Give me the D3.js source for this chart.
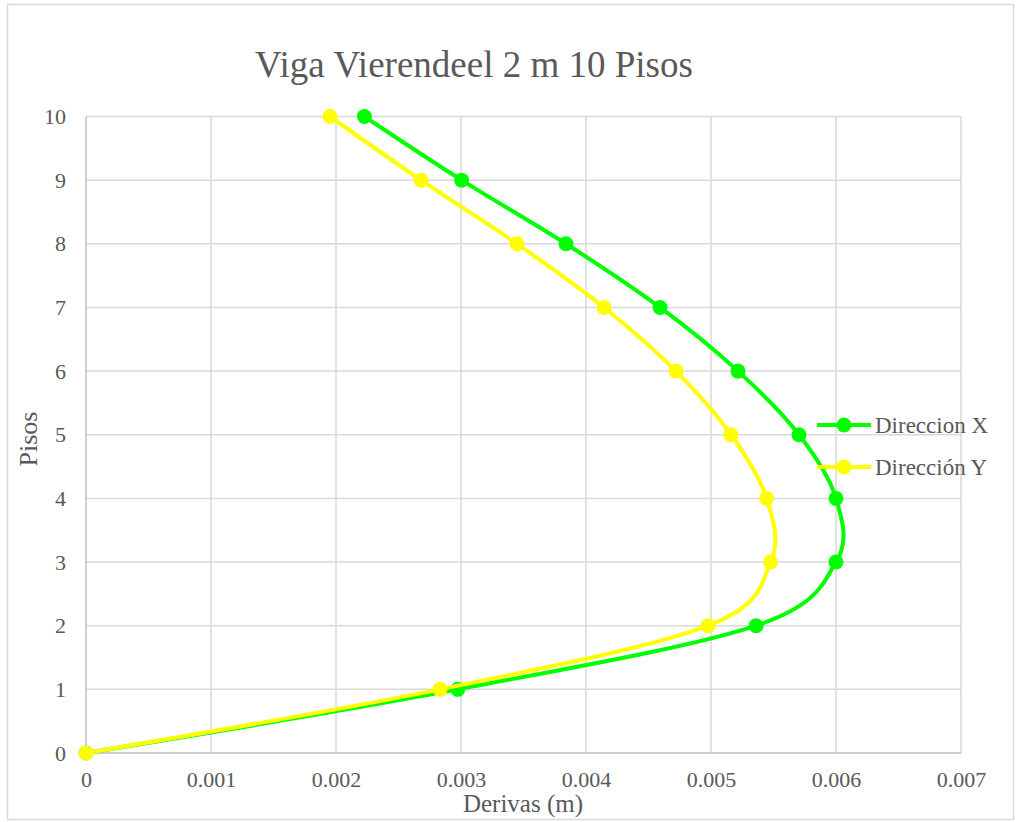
<!DOCTYPE html>
<html>
<head>
<meta charset="utf-8">
<script src="https://cdn.jsdelivr.net/npm/d3@7"></script>
<style>
  html, body { margin: 0; padding: 0; background: #fff; }
  svg { display: block; }
  svg text { font-family: "Liberation Serif", "Times New Roman", serif; }
</style>
</head>
<body>
<svg id="chart" width="1016" height="822"></svg>
<script>
const title = "Viga Vierendeel 2 m 10 Pisos";
const xTitle = "Derivas (m)";
const yTitle = "Pisos";
const pisos = [0, 1, 2, 3, 4, 5, 6, 7, 8, 9, 10];
const direccionX = [0, 0.002974, 0.00536, 0.006, 0.006, 0.005704, 0.005216, 0.004592, 0.00384, 0.003005, 0.002227];
const direccionY = [0, 0.002832, 0.004976, 0.005477, 0.005445, 0.00516, 0.00472, 0.004144, 0.003448, 0.00268, 0.001952];
const seriesNames = ["Direccion X", "Dirección Y"];
const seriesColors = ["#00ff00", "#ffff00"];
const xTicks = [0, 0.001, 0.002, 0.003, 0.004, 0.005, 0.006, 0.007];
const yTicks = [0, 1, 2, 3, 4, 5, 6, 7, 8, 9, 10];

(function () {
const FONT = "'Liberation Serif', 'Times New Roman', serif";
const svg = d3.select("#chart");
const pL = 86, pR = 961, pT = 116.5, pB = 753;

// outer border
svg.append("rect").attr("x", 7.5).attr("y", 4.5).attr("width", 1006).attr("height", 815)
  .attr("fill", "#fff").attr("stroke", "#d9d9d9").attr("stroke-width", 1.5);

const x = d3.scaleLinear().domain([0, 0.007]).range([pL, pR]);
const y = d3.scaleLinear().domain([0, 10]).range([pB, pT]);

// gridlines
const grid = svg.append("g");
grid.selectAll("line.v").data(xTicks.slice(1)).join("line").attr("class", "v")
  .attr("x1", d => x(d)).attr("x2", d => x(d)).attr("y1", pT).attr("y2", pB)
  .attr("stroke", "#d9d9d9").attr("stroke-width", 1.5);
grid.selectAll("line.h").data(yTicks.slice(1)).join("line").attr("class", "h")
  .attr("x1", pL).attr("x2", pR).attr("y1", d => y(d)).attr("y2", d => y(d))
  .attr("stroke", "#d9d9d9").attr("stroke-width", 1.5);
// axis lines
svg.append("line").attr("x1", pL).attr("x2", pL).attr("y1", pT).attr("y2", pB)
  .attr("stroke", "#bfbfbf").attr("stroke-width", 1.5);
svg.append("line").attr("x1", pL).attr("x2", pR).attr("y1", pB).attr("y2", pB)
  .attr("stroke", "#bfbfbf").attr("stroke-width", 1.5);

// axes via d3 axis
const fmt = d => d === 0 ? "0" : d3.format(".3f")(d);
const xAxis = svg.append("g").attr("transform", `translate(0,${pB})`)
  .call(d3.axisBottom(x).tickValues(xTicks).tickFormat(fmt).tickSize(0).tickPadding(18));
const yAxis = svg.append("g").attr("transform", `translate(${pL},0)`)
  .call(d3.axisLeft(y).tickValues(yTicks).tickFormat(d3.format("d")).tickSize(0).tickPadding(20));
[xAxis, yAxis].forEach(a => {
  a.attr("font-family", FONT).attr("font-size", 22);
  a.select(".domain").remove();
  a.selectAll("text").attr("fill", "#595959").style("font-size", "22px").style("font-family", FONT);
});

// titles
svg.append("text").attr("x", 474).attr("y", 77).attr("text-anchor", "middle")
  .attr("fill", "#595959").style("font-family", FONT).style("font-size", "37px").text(title);
svg.append("text").attr("x", 523).attr("y", 812).attr("text-anchor", "middle")
  .attr("fill", "#595959").style("font-family", FONT).style("font-size", "25px").text(xTitle);
svg.append("text").attr("transform", "translate(37,439) rotate(-90)").attr("text-anchor", "middle")
  .attr("fill", "#595959").style("font-family", FONT).style("font-size", "26px").text(yTitle);

// series
const series = [direccionX, direccionY];
const line = d3.line().x(d => x(d[0])).y(d => y(d[1])).curve(d3.curveCardinal.tension(0));
series.forEach((vals, i) => {
  const pts = vals.map((v, j) => [v, pisos[j]]);
  const g = svg.append("g");
  g.append("path").attr("d", line(pts)).attr("fill", "none")
    .attr("stroke", seriesColors[i]).attr("stroke-width", 4).attr("stroke-linecap", "round");
  g.selectAll("circle").data(pts).join("circle")
    .attr("cx", d => x(d[0])).attr("cy", d => y(d[1])).attr("r", 7.5)
    .attr("fill", seriesColors[i]);
});

// legend
const legY = [425, 467];
seriesNames.forEach((name, i) => {
  const g = svg.append("g");
  g.append("line").attr("x1", 817).attr("x2", 871).attr("y1", legY[i]).attr("y2", legY[i])
    .attr("stroke", seriesColors[i]).attr("stroke-width", 4);
  g.append("circle").attr("cx", 844).attr("cy", legY[i]).attr("r", 7.5).attr("fill", seriesColors[i]);
  g.append("text").attr("x", 875).attr("y", legY[i]).attr("dy", "0.33em")
    .attr("fill", "#595959").style("font-family", FONT).style("font-size", "23px").text(name);
});
})();
</script>
</body>
</html>
